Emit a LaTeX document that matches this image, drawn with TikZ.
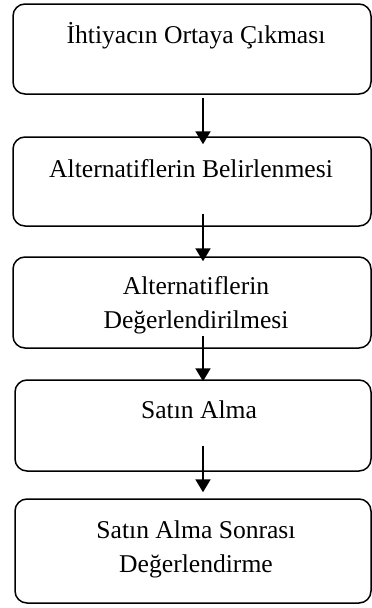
\documentclass[tikz,border=0pt]{standalone}
\usepackage{fontspec}
\setmainfont{Liberation Serif}
\usetikzlibrary{calc,arrows.meta}
\begin{document}
\begin{tikzpicture}[x=1pt,y=1pt,
  stagebox/.style={draw=black,line width=1.5pt,rounded corners=12pt,minimum width=#1,inner sep=0pt},
  lbl/.style={font=\fontsize{25.6}{34}\selectfont,align=center,inner sep=0pt},
  arr/.style={line width=2pt,-{Triangle[length=13pt,width=15pt]}}]
\useasboundingbox (0,0) rectangle (372,-608);
\node[stagebox=358pt,minimum height=90pt] (b1) at (192,-49) {};
\node[stagebox=358pt,minimum height=89pt] (b2) at (192,-181.5) {};
\node[stagebox=358pt,minimum height=91pt] (b3) at (192,-302.5) {};
\node[stagebox=356pt,minimum height=91pt] (b4) at (193,-425.5) {};
\node[stagebox=356pt,minimum height=104pt] (b5) at (193,-551) {};
\node[lbl,anchor=base] (t1) at (196,-43) {İhtiyacın Ortaya Çıkması};
\node[lbl,anchor=base] (t2) at (191,-177) {Alternatiflerin Belirlenmesi};
\node[lbl] (t3) at (196,-305.5) {Alternatiflerin\\Değerlendirilmesi};
\node[lbl,anchor=base] (t4) at (199,-418) {Satın Alma};
\node[lbl] (t5) at (196,-549.5) {Satın Alma Sonrası\\Değerlendirme};
\draw[arr] ($(b1.south)+(11,-3)$) -- ($(b2.north)+(11,-8)$);
\draw[arr] ($(b2.south)+(11,13)$) -- ($(b3.north)+(11,-5)$);
\draw[arr] ($(b3.south)+(11,13)$) -- ($(b4.north)+(10,-2)$);
\draw[arr] ($(b4.south)+(10,26)$) -- ($(b5.north)+(10,6)$);
\end{tikzpicture}
\end{document}
